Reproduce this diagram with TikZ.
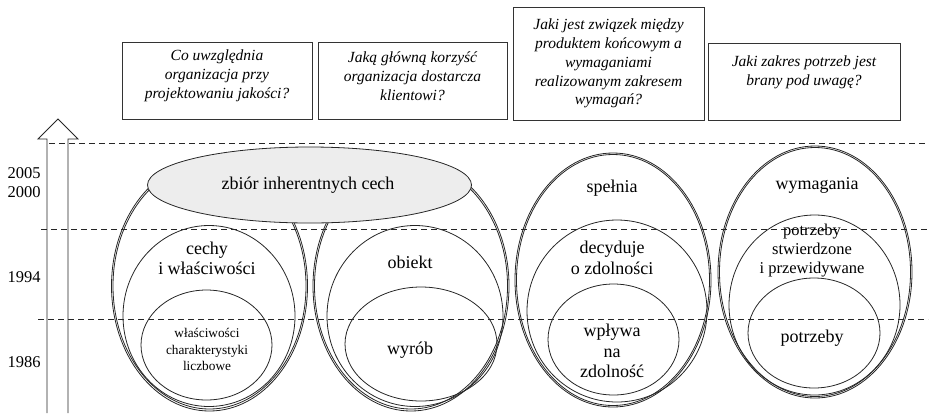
\documentclass[tikz,border=0pt]{standalone}
\usepackage{fontspec}
\setmainfont{Liberation Serif}[ItalicFont={Liberation Serif Italic}]
\usetikzlibrary{shapes.geometric}
\begin{document}
\begin{tikzpicture}[x=1pt,y=-1pt,
  ell/.style={draw=black!85, ellipse, inner sep=0pt, line width=0.8pt},
  qbox/.style={draw=black!80, line width=0.8pt, inner sep=0pt},
  qtext/.style={font=\fontsize{15.5}{18.8}\selectfont\itshape, align=center, inner sep=0pt},
  lab/.style={font=\fontsize{18}{20.5}\selectfont, align=center, inner sep=0pt},
  mid/.style={font=\fontsize{16.5}{19}\selectfont, align=center, inner sep=0pt},
  sml/.style={font=\fontsize{13.3}{16.5}\selectfont, align=center, inner sep=0pt},
  yr/.style={font=\fontsize{16.5}{19}\selectfont, align=center, inner sep=0pt},
  dline/.style={draw=black!85, line width=0.8pt, dash pattern=on 6pt off 4pt}]
\useasboundingbox (0,0) rectangle (933,413);

% question boxes
\node[qbox, minimum width=190pt, minimum height=77pt] (q1) at (217,80.5) {};
\node[qbox, minimum width=189pt, minimum height=77pt] (q2) at (412.5,80.5) {};
\node[qbox, minimum width=191pt, minimum height=113pt] (q3) at (608.5,63.5) {};
\node[qbox, minimum width=192pt, minimum height=77pt] (q4) at (804,81.5) {};
\node[qtext] (t1) at (217,76) {Co uwzględnia\\organizacja przy\\projektowaniu jakości?};
\node[qtext] (t2) at (412.5,76) {Jaką główną korzyść\\organizacja dostarcza\\klientowi?};
\node[qtext] (t3) at (608.5,63.5) {Jaki jest związek między\\produktem końcowym a\\wymaganiami\\realizowanym zakresem\\wymagań?};
\node[qtext] (t4) at (804,72) {Jaki zakres potrzeb jest\\brany pod uwagę?};

% time arrow
\draw[draw=black!85, line width=0.9pt] (47,413) -- (47,139) -- (38,139) -- (58,119) -- (78,139) -- (68,139) -- (68,413);

% outer ellipses of the left two groups (tops hidden by the grey ellipse)
\node[ell, minimum width=196pt, minimum height=250pt] (A1) at (209.5,286) {};
\node[ell, minimum width=193pt, minimum height=246pt] (A2) at (209.5,286) {};
\node[ell, minimum width=196pt, minimum height=250pt] (B1) at (411,286) {};
\node[ell, minimum width=193pt, minimum height=246pt] (B2) at (411,286) {};
% grey ellipse
\node[ell, fill=black!7, minimum width=324pt, minimum height=76pt] (G) at (309.5,185) {};
% left group
\node[ell, minimum width=172pt, minimum height=181pt] (A3) at (209,316) {};
\node[ell, minimum width=131pt, minimum height=110pt] (A4) at (206.5,345) {};
% second group
\node[ell, minimum width=176pt, minimum height=181pt] (B3) at (415,316) {};
\node[ell, minimum width=152pt, minimum height=114pt] (B4) at (421,344) {};
% third group
\node[ell, minimum width=196pt, minimum height=254pt] (C1) at (613,280) {};
\node[ell, minimum width=193pt, minimum height=251pt] (C2) at (613,280) {};
\node[ell, minimum width=180pt, minimum height=182pt] (C3) at (617,311) {};
\node[ell, minimum width=131pt, minimum height=111pt] (C4) at (613.5,339.5) {};
% fourth group
\node[ell, minimum width=194pt, minimum height=252pt] (D1) at (815,272) {};
\node[ell, minimum width=191pt, minimum height=249pt] (D2) at (815,272) {};
\node[ell, minimum width=171pt, minimum height=180pt] (D3) at (814.5,305) {};
\node[ell, minimum width=132pt, minimum height=110pt] (D4) at (814,333) {};

% dashed time lines
\coordinate (h1a) at (49,143);  \coordinate (h1b) at (928,143);
\coordinate (h2a) at (41,229);  \coordinate (h2b) at (928,229);
\coordinate (h3a) at (38,319);  \coordinate (h3b) at (928,319);
\draw[dline] (h1a) -- (h1b);
\draw[dline] (h2a) -- (h2b);
\draw[dline] (h3a) -- (h3b);

% years
\node[yr] (y1) at (24,182.5) {2005\\2000};
\node[yr] (y2) at (24,277) {1994};
\node[yr] (y3) at (24,362) {1986};

% labels
\node[lab] (lG) at (308,185) {zbiór inherentnych cech};
\node[lab] (lA3) at (207,258.5) {cechy\\i właściwości};
\node[sml] (lA4) at (207,349.5) {właściwości\\charakterystyki\\liczbowe};
\node[lab] (lB3) at (410,262) {obiekt};
\node[lab] (lB4) at (410,350) {wyrób};
\node[lab] (lC1) at (612,188) {spełnia};
\node[lab] (lC3) at (612,258) {decyduje\\o zdolności};
\node[lab] (lC4) at (612,351) {wpływa\\na\\zdolność};
\node[lab] (lD1) at (817,185) {wymagania};
\node[mid] (lD3) at (812,251) {potrzeby\\stwierdzone\\i przewidywane};
\node[lab] (lD4) at (812,338) {potrzeby};
\end{tikzpicture}
\end{document}
